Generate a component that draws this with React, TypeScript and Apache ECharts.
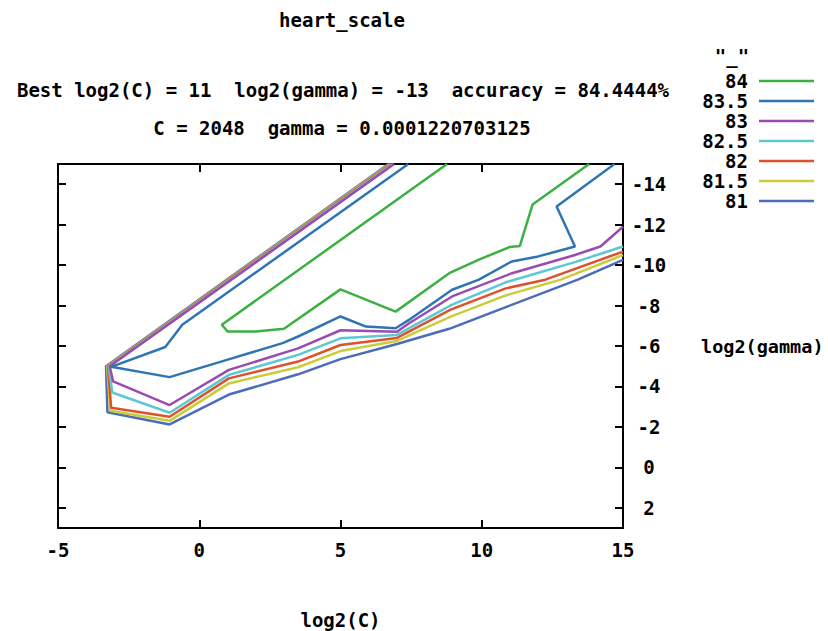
import React, { useEffect, useRef } from "react";
import * as echarts from "echarts";

const levels = ["84", "83.5", "83", "82.5", "82", "81.5", "81"];
const colors = ["#3cb043", "#2f75b3", "#9b4bb0", "#5cc8d4", "#e0502a", "#cccc3a", "#4b6cba"];

const contour84 = [
  [8.77, -15], [0.8, -7.05], [1.0, -6.72], [2.0, -6.72], [3.0, -6.85], [5.0, -8.8],
  [6.95, -7.7], [8.85, -9.6], [9.9, -10.27], [11.0, -10.9], [11.35, -10.95],
  [11.8, -13.0], [13.8, -15],
];
const contour835 = [
  [7.4, -15], [-0.6, -7.05], [-1.2, -5.95], [-3.12, -4.97], [-1.05, -4.46], [0.95, -5.3],
  [2.95, -6.14], [3.5, -6.47], [5.0, -7.46], [5.9, -6.96], [6.95, -6.88], [7.42, -7.29],
  [8.95, -8.78], [9.9, -9.28], [11.06, -10.18], [12.0, -10.43], [13.3, -10.92],
  [12.65, -12.9], [14.7, -15],
];
const contour83 = [
  [6.9, -15], [-3.17, -5.0], [-3.05, -4.25], [-1.05, -3.08], [1.05, -4.82], [3.5, -5.88],
  [5.0, -6.78], [7.0, -6.7], [7.4, -7.1], [8.95, -8.45], [11.07, -9.6], [13.3, -10.5],
  [14.2, -10.92], [15, -11.9],
];
const contour825 = [
  [6.85, -15], [-3.2, -5.0], [-3.08, -3.7], [-1.05, -2.7], [1.05, -4.57], [3.5, -5.56],
  [5.0, -6.38], [7.0, -6.55], [8.95, -8.05], [10.85, -9.15], [13.3, -10.15], [15, -10.92],
];
const contour82 = [
  [6.8, -15], [-3.23, -5.0], [-3.12, -2.95], [-1.05, -2.5], [1.05, -4.4], [3.5, -5.23],
  [5.0, -6.05], [7.0, -6.4], [8.9, -7.8], [10.85, -8.85], [12.25, -9.28], [15, -10.67],
];
const contour815 = [
  [6.75, -15], [-3.26, -5.0], [-3.15, -2.8], [-1.05, -2.3], [1.05, -4.15], [3.5, -4.95],
  [5.0, -5.75], [7.0, -6.25], [8.9, -7.45], [10.85, -8.5], [12.8, -9.28], [15, -10.5],
];
const contour81 = [
  [6.7, -15], [-3.3, -5.0], [-3.25, -2.72], [-1.05, -2.12], [1.05, -3.6], [3.5, -4.6],
  [5.0, -5.35], [7.0, -6.1], [8.85, -6.85], [10.9, -7.95], [13.4, -9.28], [15, -10.26],
];
const contours = [contour84, contour835, contour83, contour825, contour82, contour815, contour81];

const yTicks = [-14, -12, -10, -8, -6, -4, -2, 0, 2];

const FONT = "'DejaVu Sans Mono', monospace";
const textStyle = (text: string, x: number, y: number, align: string) => ({
  type: "text",
  x,
  y,
  style: {
    text,
    fill: "#000",
    font: `bold 19px ${FONT}`,
    textAlign: align,
    textVerticalAlign: "middle",
  },
});

export default function App() {
  const ref = useRef<HTMLDivElement>(null);
  useEffect(() => {
    document.body.style.margin = "0";
    const chart = echarts.init(ref.current!, null, { renderer: "svg" });
    const axisLine = { show: true, onZero: false, lineStyle: { color: "#000", width: 2 } };
    const axisTick = { show: true, inside: true, length: 8, lineStyle: { color: "#000", width: 2 } };
    const labelStyle = { color: "#000", fontFamily: FONT, fontWeight: "bold", fontSize: 19 };

    const legendGraphics: any[] = [textStyle('"_"', 732, 56, "center")];
    levels.forEach((lv, i) => {
      const y = 81 + i * 20;
      legendGraphics.push(textStyle(lv, 748, y, "right"));
      legendGraphics.push({
        type: "line",
        shape: { x1: 759, y1: y, x2: 814, y2: y },
        style: { stroke: colors[i], lineWidth: 2.5 },
      });
    });

    chart.setOption({
      animation: false,
      backgroundColor: "#fff",
      grid: {
        left: 58, right: 205, top: 164, bottom: 103,
        containLabel: false, outerBoundsMode: "none",
      },
      xAxis: [
        {
          type: "value", min: -5, max: 15, interval: 5, position: "bottom",
          axisLine, axisTick, splitLine: { show: false },
          axisLabel: { ...labelStyle, margin: 12 },
          name: "log2(C)", nameLocation: "middle", nameGap: 82,
          nameTextStyle: labelStyle,
        },
        {
          type: "value", min: -5, max: 15, interval: 5, position: "top",
          axisLine, axisTick, splitLine: { show: false }, axisLabel: { show: false },
        },
      ],
      yAxis: [
        {
          type: "value", min: -15, max: 3, inverse: true, position: "right",
          axisLine, axisTick: { ...axisTick, customValues: yTicks }, splitLine: { show: false },
          axisLabel: { ...labelStyle, customValues: yTicks, align: "center", margin: 26 },
          name: "log2(gamma)", nameLocation: "middle", nameRotate: 0, nameGap: 78,
          nameTextStyle: { ...labelStyle, fontSize: 18.5, align: "left" },
        },
        {
          type: "value", min: -15, max: 3, inverse: true, position: "left",
          axisLine, axisTick: { ...axisTick, customValues: yTicks }, splitLine: { show: false },
          axisLabel: { show: false },
        },
      ],
      graphic: [
        textStyle("heart_scale", 342, 20, "center"),
        textStyle("Best log2(C) = 11  log2(gamma) = -13  accuracy = 84.4444%", 343, 90, "center"),
        textStyle("C = 2048  gamma = 0.0001220703125", 342, 128, "center"),
        ...legendGraphics,
      ],
      series: contours.map((data, i) => ({
        type: "line",
        name: levels[i],
        data,
        xAxisIndex: 0,
        yAxisIndex: 0,
        showSymbol: false,
        symbol: "none",
        lineStyle: { color: colors[i], width: 2.5 },
        itemStyle: { color: colors[i] },
        z: 2 + (levels.length - i),
      })),
    });
    return () => chart.dispose();
  }, []);
  return (
    <div
      ref={ref}
      style={{ position: "absolute", left: 0, top: 0, width: 828, height: 631 }}
    />
  );
}
